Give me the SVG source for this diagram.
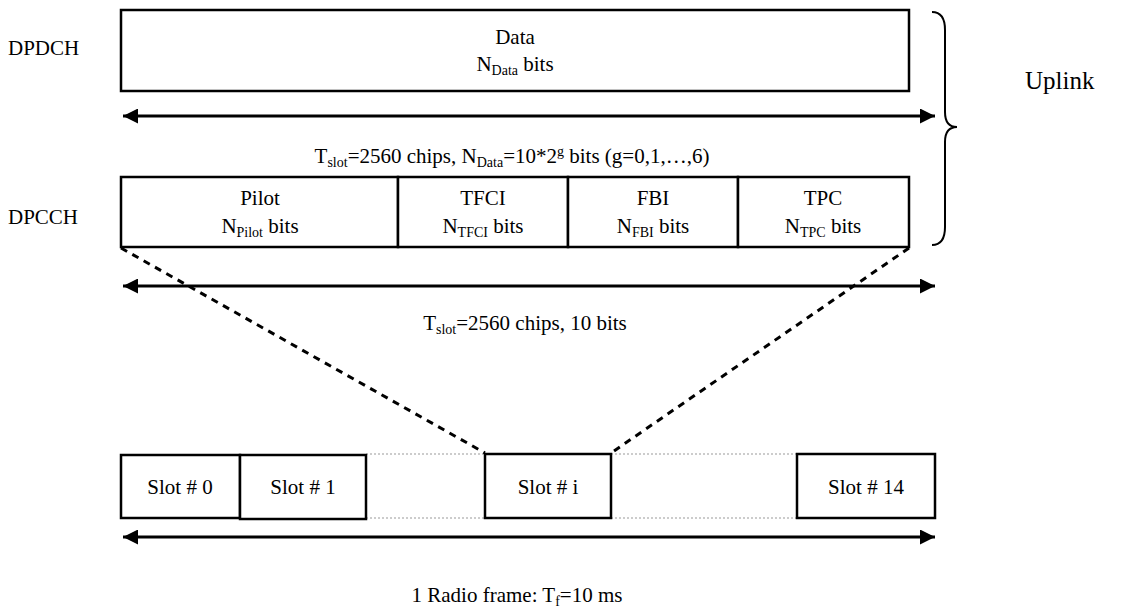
<svg xmlns="http://www.w3.org/2000/svg" width="1124" height="614" viewBox="0 0 1124 614">
<defs>
<style>
.t{font-family:"Liberation Serif","Times New Roman",serif;font-size:21px;fill:#000}
.s{font-size:14px}
.box{fill:#fff;stroke:#000;stroke-width:2.5}
.arr{stroke:#000;stroke-width:3;fill:none;marker-start:url(#ah);marker-end:url(#ah)}
.dash{stroke:#000;stroke-width:3;stroke-dasharray:7,6;fill:none}
.dot{stroke:#999;stroke-width:1;stroke-dasharray:2,2;fill:none}
</style>
<marker id="ah" viewBox="0 0 10 10" refX="10" refY="5" markerWidth="7" markerHeight="5" orient="auto-start-reverse" markerUnits="strokeWidth">
<path d="M0,0 L10,5 L0,10 z" fill="#000"/>
</marker>
</defs>
<rect width="1124" height="614" fill="#fff"/>
<text class="t" x="8" y="55">DPDCH</text>
<text class="t" x="8" y="224">DPCCH</text>
<g id="data">
<rect class="box" x="121" y="10" width="788" height="81"/>
<text class="t" x="515" y="44" text-anchor="middle">Data</text>
<text class="t" x="515" y="71" text-anchor="middle">N<tspan class="s" dy="4">Data</tspan><tspan dy="-4"> bits</tspan></text>
</g>
<g id="pilot">
<rect class="box" x="121" y="177" width="277" height="70"/>
<text class="t" x="260" y="205" text-anchor="middle">Pilot</text>
<text class="t" x="260" y="233" text-anchor="middle">N<tspan class="s" dy="4">Pilot</tspan><tspan dy="-4"> bits</tspan></text>
</g>
<g id="tfci">
<rect class="box" x="398" y="177" width="170" height="70"/>
<text class="t" x="483" y="205" text-anchor="middle">TFCI</text>
<text class="t" x="483" y="233" text-anchor="middle">N<tspan class="s" dy="4">TFCI</tspan><tspan dy="-4"> bits</tspan></text>
</g>
<g id="fbi">
<rect class="box" x="568" y="177" width="170" height="70"/>
<text class="t" x="653" y="205" text-anchor="middle">FBI</text>
<text class="t" x="653" y="233" text-anchor="middle">N<tspan class="s" dy="4">FBI</tspan><tspan dy="-4"> bits</tspan></text>
</g>
<g id="tpc">
<rect class="box" x="738" y="177" width="171" height="70"/>
<text class="t" x="823" y="205" text-anchor="middle">TPC</text>
<text class="t" x="823" y="233" text-anchor="middle">N<tspan class="s" dy="4">TPC</tspan><tspan dy="-4"> bits</tspan></text>
</g>
<g id="slots">
<line class="dot" x1="366" y1="454" x2="485" y2="454"/>
<line class="dot" x1="366" y1="518" x2="485" y2="518"/>
<line class="dot" x1="611" y1="454" x2="797" y2="454"/>
<line class="dot" x1="611" y1="518" x2="797" y2="518"/>
<g id="slot0"><rect class="box" x="121" y="455" width="119" height="63"/><text class="t" x="180" y="494" text-anchor="middle">Slot # 0</text></g>
<g id="slot1"><rect class="box" x="240" y="455" width="126" height="64"/><text class="t" x="303" y="494" text-anchor="middle">Slot # 1</text></g>
<g id="sloti"><rect class="box" x="485" y="454" width="126" height="64"/><text class="t" x="548" y="494" text-anchor="middle">Slot # i</text></g>
<g id="slot14"><rect class="box" x="797" y="454" width="138" height="64"/><text class="t" x="866" y="494" text-anchor="middle">Slot # 14</text></g>
</g>
<g id="connectors">
<line class="arr" x1="123" y1="116" x2="935" y2="116"/>
<line class="arr" x1="123" y1="286" x2="935" y2="286"/>
<line class="arr" x1="123" y1="537" x2="935" y2="537"/>
<line class="dash" x1="121" y1="248" x2="485" y2="453"/>
<line class="dash" x1="909" y1="248" x2="611" y2="453"/>
<path d="M932,12 Q945,12 945,30 L945,112 Q945,127 957,127 Q945,127 945,142 L945,227 Q945,245 932,245" fill="none" stroke="#000" stroke-width="2"/>
</g>
<text class="t" x="512" y="163" text-anchor="middle">T<tspan class="s" dy="4">slot</tspan><tspan dy="-4">=2560 chips, N</tspan><tspan class="s" dy="4">Data</tspan><tspan dy="-4">=10*2</tspan><tspan class="s" dy="-7">g</tspan><tspan dy="7"> bits (g=0,1,…,6)</tspan></text>
<text class="t" x="525" y="330" text-anchor="middle">T<tspan class="s" dy="4">slot</tspan><tspan dy="-4">=2560 chips, 10 bits</tspan></text>
<text class="t" x="517" y="602" text-anchor="middle">1 Radio frame: T<tspan class="s" dy="4">f</tspan><tspan dy="-4">=10 ms</tspan></text>
<text class="t" x="1025" y="89" style="font-size:25px">Uplink</text>
</svg>
